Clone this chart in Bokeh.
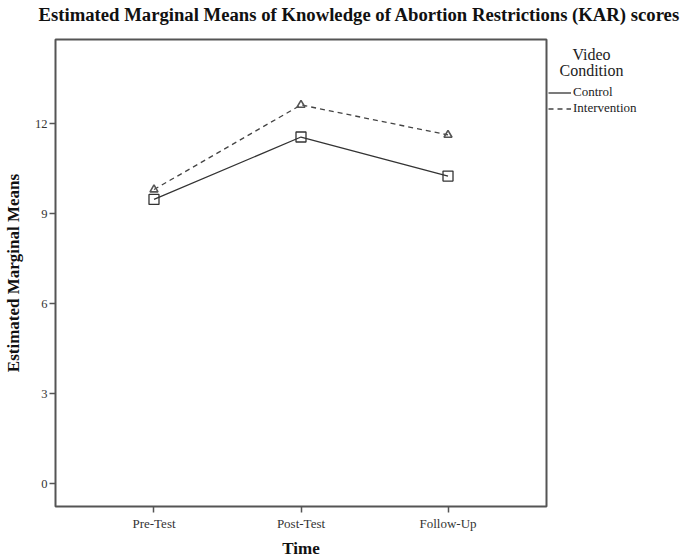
from bokeh.plotting import figure
from bokeh.layouts import column, row
from bokeh.models import (FactorRange, Range1d, FixedTicker, Legend, LegendItem,
                          Label, ColumnDataSource)
from bokeh.embed import file_html
from bokeh.resources import INLINE

# ---- data ----
times = ["Pre-Test", "Post-Test", "Follow-Up"]
control = [9.47, 11.55, 10.25]
intervention = [9.80, 12.62, 11.62]
y_ticks = [0, 3, 6, 9, 12]
series_names = ["Control", "Intervention"]
legend_title = ["Video", "Condition"]
title_text = "Estimated Marginal Means of Knowledge of Abortion Restrictions (KAR) scores"
x_title = "Time"
y_title = "Estimated Marginal Means"

SERIF = "Liberation Serif"
TOP_H = 30
W, H = 684, 560
MAIN_W = 548
FRAME_TOP, FRAME_BOTTOM = 39, 508

src = ColumnDataSource(dict(t=times, c=control, i=intervention))


def blank_fig(w, h, top=0, bottom=0):
    f = figure(width=w, height=h, title=None, output_backend="svg", toolbar_location=None,
               x_axis_location=None, y_axis_location=None,
               x_range=Range1d(0, 1), y_range=Range1d(0, 1),
               min_border_left=0, min_border_right=0, min_border_top=top,
               min_border_bottom=bottom)
    f.outline_line_color = None
    f.background_fill_color = "white"
    f.border_fill_color = "white"
    f.xgrid.visible = False
    f.ygrid.visible = False
    return f


# ---- title strip ----
p_top = blank_fig(W, TOP_H)
p_top.add_layout(Label(x=38, y=TOP_H - 14, x_units="screen", y_units="screen", text=title_text,
                       text_font=SERIF, text_font_size="18.7px", text_font_style="bold",
                       text_align="left", text_baseline="middle", text_color="#111111"))

# ---- main plot ----
p = figure(width=MAIN_W, height=H - TOP_H, title=None, output_backend="svg", toolbar_location=None,
           x_range=FactorRange(factors=times, range_padding=0.17, range_padding_units="absolute"),
           y_range=Range1d(-0.763, 14.80),
           min_border_left=53, min_border_right=2, min_border_top=FRAME_TOP - TOP_H,
           min_border_bottom=H - FRAME_BOTTOM)

p.background_fill_color = "white"
p.border_fill_color = "white"
p.outline_line_color = "#555555"
p.outline_line_width = 2
p.xgrid.visible = False
p.ygrid.visible = False

for ax in (p.xaxis[0], p.yaxis[0]):
    ax.axis_line_color = None
    ax.major_tick_line_color = "#555555"
    ax.major_tick_line_width = 1.5
    ax.major_tick_in = 0
    ax.major_tick_out = 6
    ax.minor_tick_line_color = None
    ax.major_label_text_font = SERIF
    ax.major_label_text_color = "#333333"
    ax.axis_label_text_font = SERIF
    ax.axis_label_text_font_style = "bold"
    ax.axis_label_text_font_size = "17px"
    ax.axis_label_text_color = "#111111"

p.xaxis.major_label_text_font_size = "13px"
p.xaxis.major_label_standoff = 3
p.xaxis.axis_label = x_title
p.xaxis.axis_label_standoff = 5
p.yaxis.major_label_text_font_size = "12.5px"
p.yaxis.major_label_standoff = 2
p.yaxis.axis_label = y_title
p.yaxis.axis_label_standoff = 9
p.yaxis.ticker = FixedTicker(ticks=y_ticks)

p.line("t", "c", source=src, line_color="#333333", line_width=1.3)
p.line("t", "i", source=src, line_color="#444444", line_width=1.3, line_dash="5 4")
p.scatter("t", "c", source=src, marker="square", size=10, fill_color=None,
          line_color="#333333", line_width=1.3)
p.scatter("t", "i", source=src, marker="triangle", size=8, fill_color=None,
          line_color="#555555", line_width=1.6)

# ---- legend strip (its frame lines up with the main frame: page y 39..508) ----
LEG_W = W - MAIN_W
LEG_H = H - TOP_H
p_leg = blank_fig(LEG_W, LEG_H, top=FRAME_TOP - TOP_H, bottom=H - FRAME_BOTTOM)
# legend key renderers (their data lies outside this strip's ranges, so only the keys show)
k_c = p_leg.line(x=[0, 1, 2], y=control, line_color="#333333", line_width=1.3)
k_i = p_leg.line(x=[0, 1, 2], y=intervention, line_color="#444444", line_width=1.3,
                 line_dash="5 4")
legend = Legend(items=[LegendItem(label=series_names[0], renderers=[k_c]),
                       LegendItem(label=series_names[1], renderers=[k_i])],
                location=(0, FRAME_BOTTOM - 118), padding=0, margin=0, spacing=0,
                glyph_width=23, glyph_height=11, label_height=11, label_standoff=2,
                label_text_font=SERIF, label_text_font_size="13px",
                label_text_line_height=0.95, label_text_color="#222222",
                background_fill_alpha=0, border_line_color=None)
p_leg.add_layout(legend, "center")
for txt, yc in zip(legend_title, [56, 72]):
    p_leg.add_layout(Label(x=591 - MAIN_W, y=FRAME_BOTTOM - yc, x_units="screen",
                           y_units="screen", text=txt, text_font=SERIF,
                           text_font_size="16px", text_align="center",
                           text_baseline="middle", text_color="#222222"))

layout = column(p_top, row(p, p_leg, spacing=0), spacing=0)
open("out.html", "w").write(file_html(layout, INLINE))
